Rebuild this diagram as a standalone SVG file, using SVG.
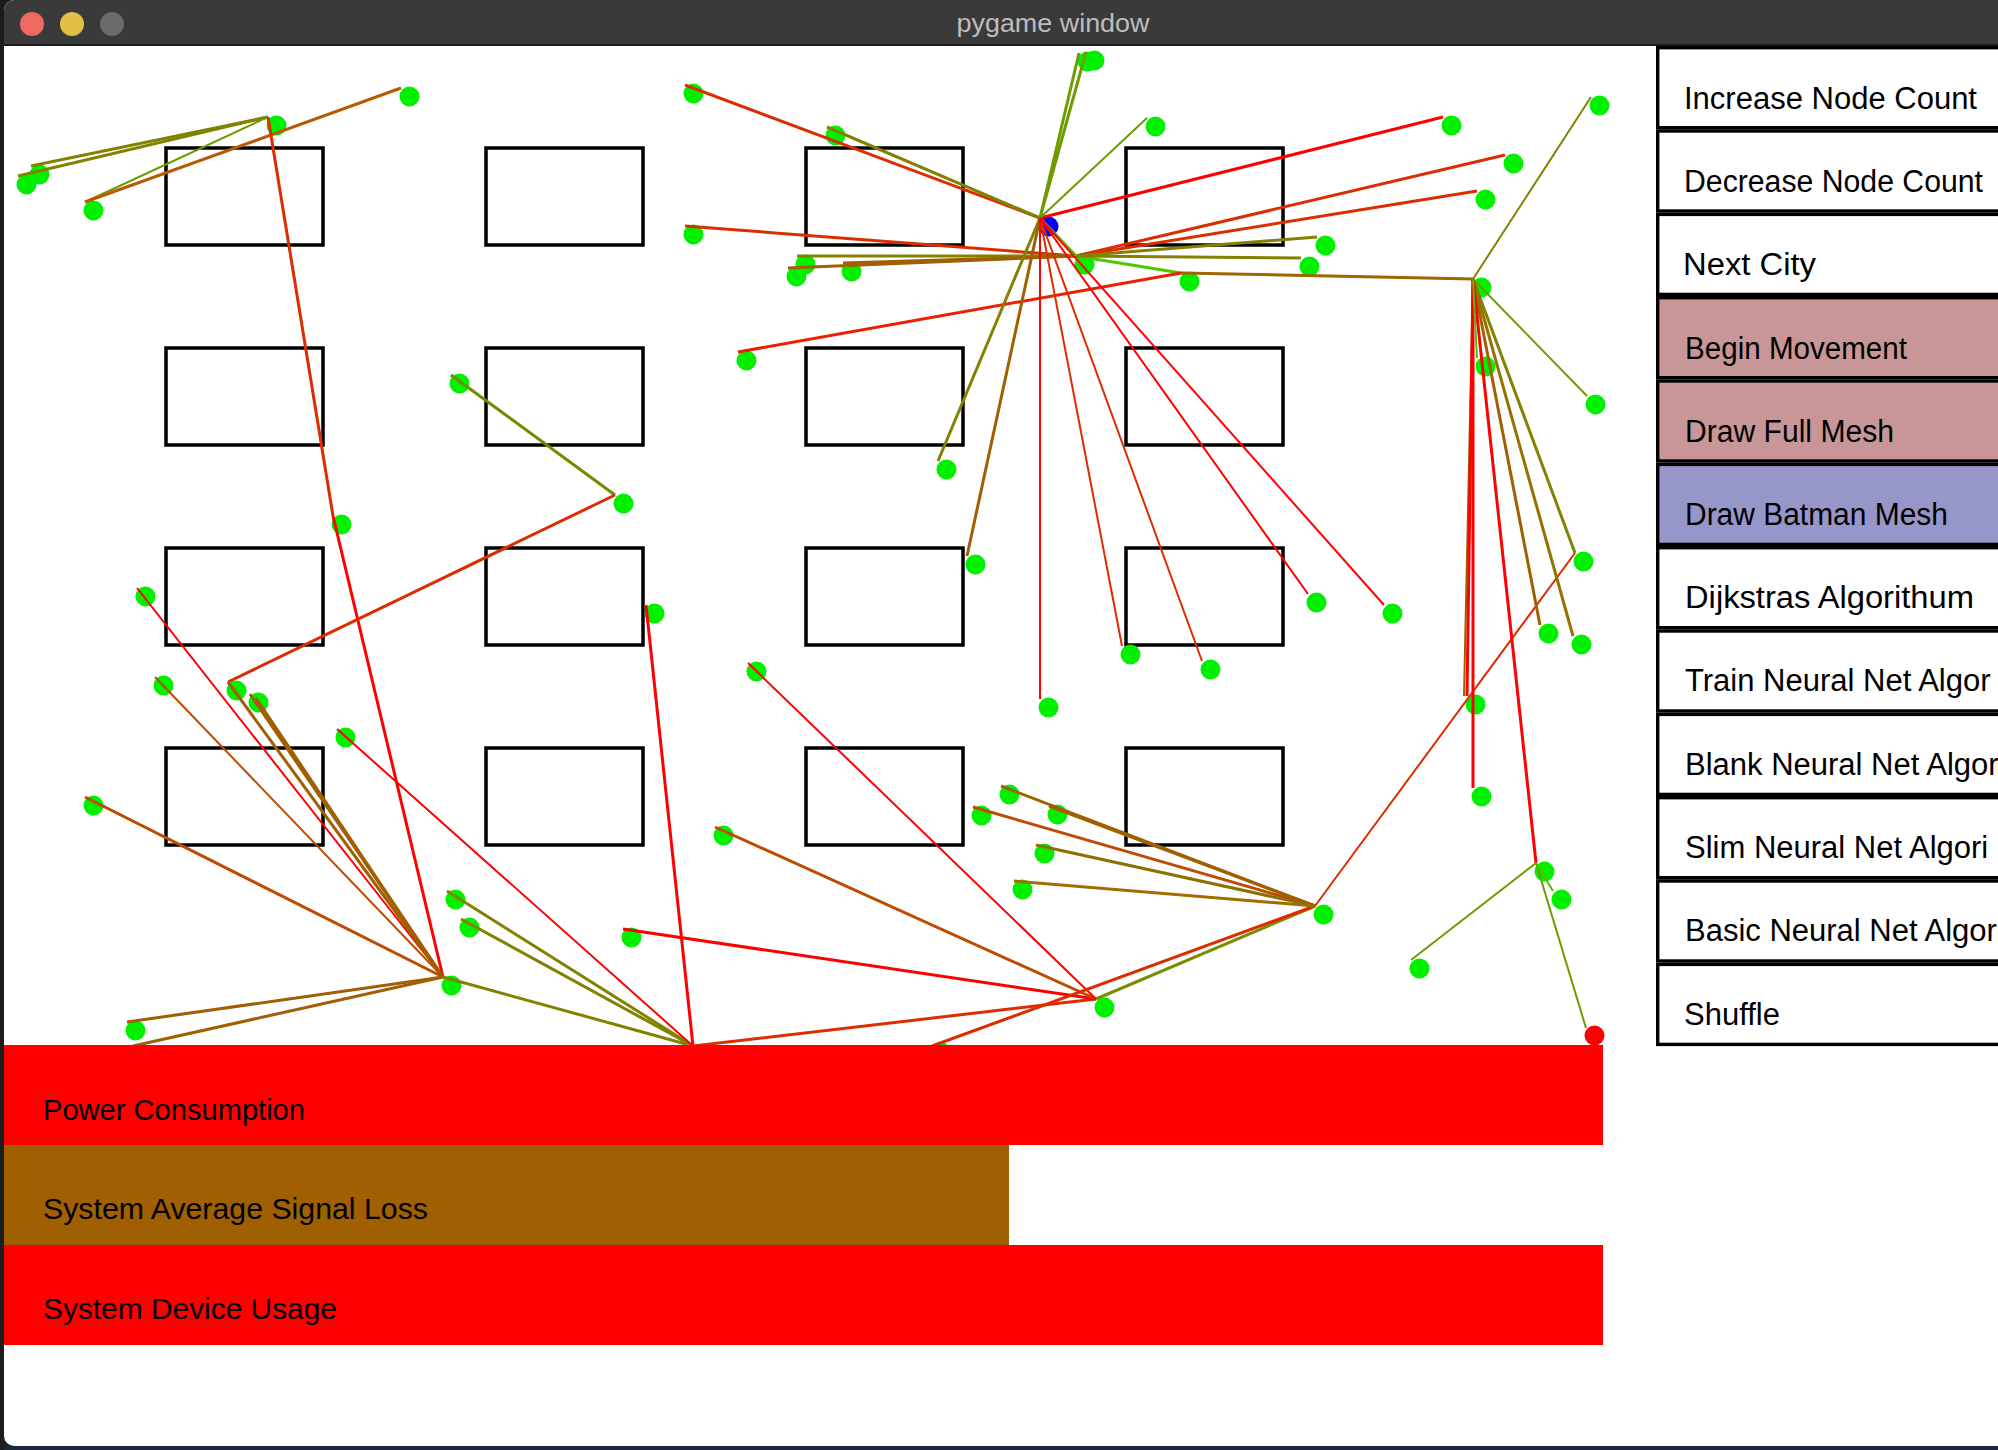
<svg xmlns="http://www.w3.org/2000/svg" width="1998" height="1450" viewBox="0 0 1998 1450">
<style>
.box{fill:none;stroke:#000;stroke-width:3.5}
.dot{fill:#00F000}
line{stroke-width:3;fill:none}
.t{stroke-width:2}
.r{stroke:#FF0000}.ro{stroke:#DC2D00}.o{stroke:#BE4B00}.b{stroke:#A05F00}.ol{stroke:#828200}.go{stroke:#6E9B00}.g{stroke:#55BE00}
.btn{stroke:#000;stroke-width:3.4}
.bt{font-family:"Liberation Sans",Arial,sans-serif;font-size:31px;fill:#000}
.lt{font-family:"Liberation Sans",Arial,sans-serif;font-size:29px;fill:#000}
</style>
<rect x="0" y="0" width="1998" height="1450" fill="#1e1c1a"/>
<rect x="4" y="0" width="2010" height="1446" rx="10" fill="#ffffff"/>
<path d="M4 46 V10 A10 10 0 0 1 14 0 H1998 V46 Z" fill="#3a3a3a"/>
<rect x="4" y="44" width="1994" height="2" fill="#1a1a1a"/>
<circle cx="32" cy="24" r="12" fill="#EE6A5E"/>
<circle cx="72" cy="24" r="12" fill="#E2BF45"/>
<circle cx="112" cy="24" r="12" fill="#6B6B6B"/>
<text x="1053" y="32" text-anchor="middle" font-family="Liberation Sans,Arial,sans-serif" font-size="25" fill="#BDBDBD" textLength="193" lengthAdjust="spacingAndGlyphs">pygame window</text>

<g id="grid">
<rect class="box" x="166" y="148" width="157" height="97"/>
<rect class="box" x="486" y="148" width="157" height="97"/>
<rect class="box" x="806" y="148" width="157" height="97"/>
<rect class="box" x="1126" y="148" width="157" height="97"/>
<rect class="box" x="166" y="348" width="157" height="97"/>
<rect class="box" x="486" y="348" width="157" height="97"/>
<rect class="box" x="806" y="348" width="157" height="97"/>
<rect class="box" x="1126" y="348" width="157" height="97"/>
<rect class="box" x="166" y="548" width="157" height="97"/>
<rect class="box" x="486" y="548" width="157" height="97"/>
<rect class="box" x="806" y="548" width="157" height="97"/>
<rect class="box" x="1126" y="548" width="157" height="97"/>
<rect class="box" x="166" y="748" width="157" height="97"/>
<rect class="box" x="486" y="748" width="157" height="97"/>
<rect class="box" x="806" y="748" width="157" height="97"/>
<rect class="box" x="1126" y="748" width="157" height="97"/>
</g>

<g id="nodes">
<g id="n1"><circle class="dot" cx="409.5" cy="96.5" r="10"/></g>
<g id="n2"><circle class="dot" cx="276.5" cy="125.5" r="10"/></g>
<g id="n3"><circle class="dot" cx="93.5" cy="210.5" r="10"/></g>
<g id="n4"><circle class="dot" cx="26.5" cy="184.5" r="10"/></g>
<g id="n5"><circle class="dot" cx="39.5" cy="174.5" r="10"/></g>
<g id="n6"><circle class="dot" cx="459.5" cy="383.5" r="10"/></g>
<g id="n7"><circle class="dot" cx="341.5" cy="524.5" r="10"/></g>
<g id="n8"><circle class="dot" cx="623.5" cy="503.5" r="10"/></g>
<g id="n9"><circle class="dot" cx="236.5" cy="690.5" r="10"/></g>
<g id="n10"><circle class="dot" cx="693.5" cy="93.5" r="10"/></g>
<g id="n11"><circle class="dot" cx="835.5" cy="135.5" r="10"/></g>
<g id="n12"><circle class="dot" cx="693.5" cy="234.5" r="10"/></g>
<g id="h2"><circle cx="1048.5" cy="226.5" r="10" fill="#0000FF"/></g>
<g id="n26a"><circle class="dot" cx="1094.5" cy="60.5" r="10"/></g>
<g id="n26b"><circle class="dot" cx="1087.5" cy="61.5" r="10"/></g>
<g id="n48"><circle class="dot" cx="1155.5" cy="126.5" r="10"/></g>
<g id="n42"><circle class="dot" cx="1451.5" cy="125.5" r="10"/></g>
<g id="h4"><circle class="dot" cx="1084.5" cy="264.5" r="10"/></g>
<g id="n29"><circle class="dot" cx="805.5" cy="264.5" r="10"/></g>
<g id="n30"><circle class="dot" cx="796.5" cy="276.5" r="10"/></g>
<g id="n31"><circle class="dot" cx="851.5" cy="271.5" r="10"/></g>
<g id="n15"><circle class="dot" cx="746.5" cy="360.5" r="10"/></g>
<g id="n16"><circle class="dot" cx="1189.5" cy="281.5" r="10"/></g>
<g id="n38"><circle class="dot" cx="1513.5" cy="163.5" r="10"/></g>
<g id="n39"><circle class="dot" cx="1485.5" cy="199.5" r="10"/></g>
<g id="n40"><circle class="dot" cx="1325.5" cy="245.5" r="10"/></g>
<g id="n41"><circle class="dot" cx="1309.5" cy="266.5" r="10"/></g>
<g id="h5"><circle class="dot" cx="1481.5" cy="287.5" r="10"/></g>
<g id="n32"><circle class="dot" cx="1599.5" cy="105.5" r="10"/></g>
<g id="n33"><circle class="dot" cx="1595.5" cy="404.5" r="10"/></g>
<g id="n34"><circle class="dot" cx="1485.5" cy="366.5" r="10"/></g>
<g id="n27"><circle class="dot" cx="946.5" cy="469.5" r="10"/></g>
<g id="n28"><circle class="dot" cx="975.5" cy="564.5" r="10"/></g>
<g id="n43"><circle class="dot" cx="1130.5" cy="654.5" r="10"/></g>
<g id="n44"><circle class="dot" cx="1210.5" cy="669.5" r="10"/></g>
<g id="n45"><circle class="dot" cx="1316.5" cy="602.5" r="10"/></g>
<g id="n46"><circle class="dot" cx="1392.5" cy="613.5" r="10"/></g>
<g id="n47"><circle class="dot" cx="1048.5" cy="707.5" r="10"/></g>
<g id="n49"><circle class="dot" cx="1475.5" cy="704.5" r="10"/></g>
<g id="n50"><circle class="dot" cx="1481.5" cy="796.5" r="10"/></g>
<g id="n51"><circle class="dot" cx="1544.5" cy="871.5" r="10"/></g>
<g id="n52"><circle class="dot" cx="1419.5" cy="968.5" r="10"/></g>
<g id="n53"><circle cx="1594.5" cy="1035.5" r="10" fill="#FF0000"/></g>
<g id="n54"><circle class="dot" cx="1561.5" cy="899.5" r="10"/></g>
<g id="n55"><circle class="dot" cx="1548.5" cy="633.5" r="10"/></g>
<g id="n56"><circle class="dot" cx="1581.5" cy="644.5" r="10"/></g>
<g id="n36"><circle class="dot" cx="1583.5" cy="561.5" r="10"/></g>
<g id="n35"><circle class="dot" cx="1323.5" cy="914.5" r="10"/></g>
<g id="n57"><circle class="dot" cx="1009.5" cy="794.5" r="10"/></g>
<g id="n58"><circle class="dot" cx="1057.5" cy="814.5" r="10"/></g>
<g id="n59"><circle class="dot" cx="981.5" cy="815.5" r="10"/></g>
<g id="n60"><circle class="dot" cx="1044.5" cy="853.5" r="10"/></g>
<g id="n61"><circle class="dot" cx="1022.5" cy="889.5" r="10"/></g>
<g id="h7"><circle class="dot" cx="1104.5" cy="1007.5" r="10"/></g>
<g id="n62"><circle class="dot" cx="940.5" cy="1052" r="10"/></g>
<g id="n63"><circle class="dot" cx="631.5" cy="937.5" r="10"/></g>
<g id="n64"><circle class="dot" cx="723.5" cy="835.5" r="10"/></g>
<g id="n65"><circle class="dot" cx="756.5" cy="671.5" r="10"/></g>
<g id="n66"><circle class="dot" cx="654.5" cy="613.5" r="10"/></g>
<g id="h6"><circle class="dot" cx="701.5" cy="1054.5" r="10"/></g>
<g id="n20"><circle class="dot" cx="345.5" cy="737.5" r="10"/></g>
<g id="h3"><circle class="dot" cx="451.5" cy="985.5" r="10"/></g>
<g id="n17"><circle class="dot" cx="145.5" cy="596.5" r="10"/></g>
<g id="n18"><circle class="dot" cx="163.5" cy="685.5" r="10"/></g>
<g id="n19"><circle class="dot" cx="258.5" cy="702.5" r="10"/></g>
<g id="n21"><circle class="dot" cx="135.5" cy="1030.5" r="10"/></g>
<g id="n22"><circle class="dot" cx="141.5" cy="1056" r="10"/></g>
<g id="n23"><circle class="dot" cx="455.5" cy="899.5" r="10"/></g>
<g id="n24"><circle class="dot" cx="469.5" cy="927.5" r="10"/></g>
<g id="n25"><circle class="dot" cx="93.5" cy="805.5" r="10"/></g>
</g>

<g id="connectors">
<line class="ol" x1="268" y1="117" x2="18" y2="176"/>
<line class="ol" x1="268" y1="117" x2="31" y2="166"/>
<line class="go t" x1="268" y1="117" x2="85" y2="202"/>
<line class="o" x1="85" y1="202" x2="401" y2="88" style="stroke:#B85A00"/>
<line class="ro" x1="268" y1="117" x2="333" y2="516"/>
<line class="r" x1="333" y1="516" x2="443" y2="977"/>
<line class="go" x1="451" y1="375" x2="615" y2="495" style="stroke:#6E8C00"/>
<line class="ro" x1="615" y1="495" x2="228" y2="682"/>
<line class="r t" x1="137" y1="588" x2="443" y2="977"/>
<line class="o t" x1="155" y1="677" x2="443" y2="977"/>
<line class="b" x1="228" y1="682" x2="443" y2="977"/>
<line class="b" x1="250" y1="694" x2="443" y2="977"/>
<line class="b" x1="256" y1="698" x2="443" y2="977"/>
<line class="o" x1="85" y1="797" x2="443" y2="977"/>
<line class="b" x1="443" y1="977" x2="127" y2="1022"/>
<line class="b" x1="443" y1="977" x2="133" y2="1046"/>
<line class="ol" x1="443" y1="977" x2="693" y2="1046"/>
<line class="ol" x1="447" y1="891" x2="693" y2="1046"/>
<line class="ol" x1="461" y1="919" x2="693" y2="1046"/>
<line class="r t" x1="337" y1="729" x2="693" y2="1046"/>
<line class="r" x1="646" y1="605" x2="693" y2="1046"/>
<line class="ro" x1="693" y1="1046" x2="1096" y2="999"/>
<line class="r" x1="623" y1="929" x2="1096" y2="999"/>
<line class="o" x1="715" y1="827" x2="1096" y2="999"/>
<line class="r t" x1="748" y1="663" x2="1096" y2="999"/>
<line class="ol" x1="1315" y1="906" x2="1096" y2="999" style="stroke:#7A8C00"/>
<line class="ro" x1="1315" y1="906" x2="932" y2="1046"/>
<line class="b" x1="1001" y1="786" x2="1315" y2="906"/>
<line class="b" x1="1049" y1="806" x2="1315" y2="906"/>
<line class="o" x1="973" y1="807" x2="1315" y2="906"/>
<line class="b" x1="1036" y1="845" x2="1315" y2="906" style="stroke:#8C7000"/>
<line class="b" x1="1014" y1="881" x2="1315" y2="906" style="stroke:#A06E00"/>
<line class="ro t" x1="1575" y1="553" x2="1315" y2="906"/>
<line class="ol" x1="1473" y1="279" x2="1575" y2="553"/>
<line class="b" x1="1473" y1="279" x2="1540" y2="625"/>
<line class="b" x1="1473" y1="279" x2="1573" y2="636" style="stroke:#967000"/>
<line class="b t" x1="1473" y1="279" x2="1464" y2="696"/>
<line class="r" x1="1473" y1="279" x2="1467" y2="696"/>
<line class="r" x1="1473" y1="279" x2="1473" y2="788"/>
<line class="r" x1="1473" y1="279" x2="1536" y2="863"/>
<line class="g t" x1="1473" y1="279" x2="1477" y2="358"/>
<line class="ol t" x1="1473" y1="279" x2="1591" y2="97"/>
<line class="go t" x1="1473" y1="279" x2="1587" y2="396"/>
<line class="b" x1="1473" y1="279" x2="1181" y2="273" style="stroke:#A06400"/>
<line class="go t" x1="1536" y1="863" x2="1411" y2="960"/>
<line class="go t" x1="1536" y1="863" x2="1586" y2="1028"/>
<line class="g t" x1="1536" y1="863" x2="1553" y2="891"/>
<line class="g" x1="1076" y1="256" x2="1181" y2="273" style="stroke:#50C800"/>
<line class="ro" x1="738" y1="352" x2="1181" y2="273" style="stroke:#F01E00"/>
<line class="ro" x1="1076" y1="256" x2="1505" y2="155"/>
<line class="ro" x1="1076" y1="256" x2="1477" y2="191"/>
<line class="ol" x1="1076" y1="256" x2="1317" y2="237"/>
<line class="ol" x1="1076" y1="256" x2="1301" y2="258"/>
<line class="ro" x1="1076" y1="256" x2="685" y2="226"/>
<line class="ol" x1="1076" y1="256" x2="797" y2="256"/>
<line class="b" x1="1076" y1="256" x2="788" y2="268"/>
<line class="b" x1="1076" y1="256" x2="843" y2="263"/>
<line class="g" x1="1040" y1="218" x2="1076" y2="256"/>
<line class="ro" x1="1040" y1="218" x2="685" y2="85"/>
<line class="ol" x1="1040" y1="218" x2="827" y2="127"/>
<line class="r" x1="1040" y1="218" x2="1443" y2="117"/>
<line class="go t" x1="1040" y1="218" x2="1147" y2="118"/>
<line class="go" x1="1040" y1="218" x2="1086" y2="52"/>
<line class="go" x1="1040" y1="218" x2="1079" y2="53"/>
<line class="ol" x1="1040" y1="218" x2="938" y2="461"/>
<line class="b" x1="1040" y1="218" x2="967" y2="556"/>
<line class="ro t" x1="1040" y1="218" x2="1122" y2="646"/>
<line class="ro t" x1="1040" y1="218" x2="1202" y2="661"/>
<line class="r t" x1="1040" y1="218" x2="1308" y2="594"/>
<line class="r t" x1="1040" y1="218" x2="1384" y2="605"/>
<line class="r t" x1="1040" y1="218" x2="1040" y2="699"/>
</g>

<g id="bars">
<rect x="4" y="1045" width="1599" height="100" fill="#FF0000"/>
<rect x="4" y="1145" width="1005" height="100" fill="#A05F00"/>
<rect x="4" y="1245" width="1599" height="100" fill="#FF0000"/>
<text class="lt" x="43" y="1120" textLength="262" lengthAdjust="spacingAndGlyphs">Power Consumption</text>
<text class="lt" x="43" y="1219" textLength="385" lengthAdjust="spacingAndGlyphs">System Average Signal Loss</text>
<text class="lt" x="43" y="1319" textLength="294" lengthAdjust="spacingAndGlyphs">System Device Usage</text>
</g>

<g id="buttons">
<g id="btn-increase"><rect class="btn" x="1657.7" y="47.7" width="400" height="80" fill="#fff"/><text class="bt" x="1684" y="109" textLength="293" lengthAdjust="spacingAndGlyphs">Increase Node Count</text></g>
<g id="btn-decrease"><rect class="btn" x="1657.7" y="131" width="400" height="80" fill="#fff"/><text class="bt" x="1684" y="192" textLength="299" lengthAdjust="spacingAndGlyphs">Decrease Node Count</text></g>
<g id="btn-next"><rect class="btn" x="1657.7" y="214.4" width="400" height="80" fill="#fff"/><text class="bt" x="1683" y="275" textLength="133" lengthAdjust="spacingAndGlyphs">Next City</text></g>
<g id="btn-begin"><rect class="btn" x="1657.7" y="297.7" width="400" height="80" fill="#C89696"/><text class="bt" x="1685" y="359" textLength="222" lengthAdjust="spacingAndGlyphs">Begin Movement</text></g>
<g id="btn-full"><rect class="btn" x="1657.7" y="381" width="400" height="80" fill="#C89696"/><text class="bt" x="1685" y="442" textLength="209" lengthAdjust="spacingAndGlyphs">Draw Full Mesh</text></g>
<g id="btn-batman"><rect class="btn" x="1657.7" y="464.4" width="400" height="80" fill="#9696C8"/><text class="bt" x="1685" y="525" textLength="263" lengthAdjust="spacingAndGlyphs">Draw Batman Mesh</text></g>
<g id="btn-dijkstra"><rect class="btn" x="1657.7" y="547.7" width="400" height="80" fill="#fff"/><text class="bt" x="1685" y="608" textLength="289" lengthAdjust="spacingAndGlyphs">Dijkstras Algorithum</text></g>
<g id="btn-train"><rect class="btn" x="1657.7" y="631" width="400" height="80" fill="#fff"/><text class="bt" x="1685" y="691">Train Neural Net Algor</text></g>
<g id="btn-blank"><rect class="btn" x="1657.7" y="714.4" width="400" height="80" fill="#fff"/><text class="bt" x="1685" y="775">Blank Neural Net Algor</text></g>
<g id="btn-slim"><rect class="btn" x="1657.7" y="797.7" width="400" height="80" fill="#fff"/><text class="bt" x="1685" y="858">Slim Neural Net Algori</text></g>
<g id="btn-basic"><rect class="btn" x="1657.7" y="881" width="400" height="80" fill="#fff"/><text class="bt" x="1685" y="941">Basic Neural Net Algor</text></g>
<g id="btn-shuffle"><rect class="btn" x="1657.7" y="964.4" width="400" height="80" fill="#fff"/><text class="bt" x="1684" y="1025">Shuffle</text></g>
</g>
<rect x="0" y="1446" width="1998" height="4" fill="#1a2a3a"/>
<rect x="0" y="0" width="4" height="1450" fill="#1e1c1a"/>
</svg>
